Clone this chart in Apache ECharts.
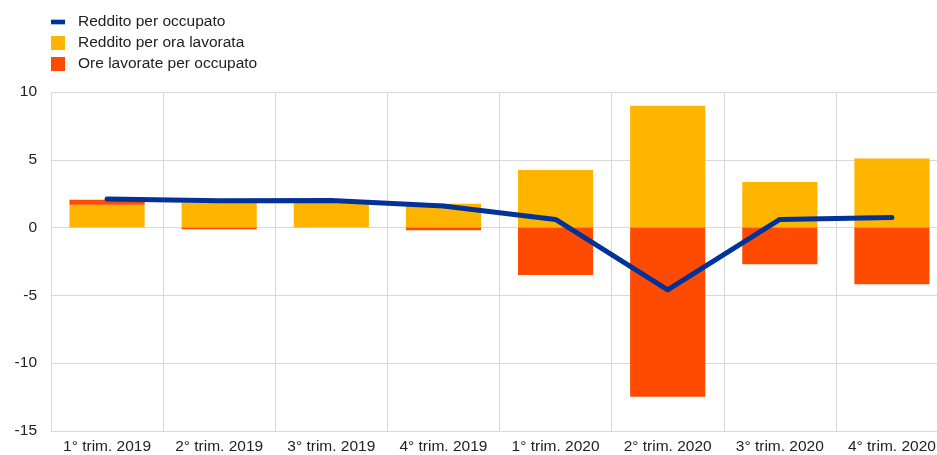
<!DOCTYPE html>
<html>
<head>
<meta charset="utf-8">
<script src="https://cdn.jsdelivr.net/npm/echarts@6/dist/echarts.min.js"></script>
<style>
  html, body { margin: 0; padding: 0; background: #fff; overflow: hidden; }
  #chart { width: 950px; height: 455px; }
</style>
</head>
<body>
<div id="chart"></div>
<script>
const categories = ['1° trim. 2019', '2° trim. 2019', '3° trim. 2019', '4° trim. 2019',
  '1° trim. 2020', '2° trim. 2020', '3° trim. 2020', '4° trim. 2020'];
const redditoPerOra = [1.68, 1.85, 1.97, 1.75, 4.24, 8.99, 3.37, 5.1];
const orePerOccupato = [0.37, -0.12, 0, -0.2, -3.49, -12.48, -2.71, -4.18];
const redditoPerOccupato = [2.1, 1.98, 2.0, 1.6, 0.6, -4.6, 0.6, 0.74];

const chart = echarts.init(document.getElementById('chart'));

const font = 'Liberation Sans, Arial, sans-serif';

chart.setOption({
  animation: false,
  textStyle: { fontFamily: font },
  legend: {
    orient: 'vertical',
    left: 51,
    top: 14,
    padding: 0,
    itemWidth: 14,
    itemHeight: 14,
    itemGap: 5,
    textStyle: { fontSize: 15.5, color: '#222', fontFamily: font, padding: [0, 0, 0, 8] },
    data: [
      { name: 'Reddito per occupato', icon: 'path://M0,0h15v5h-15z' },
      { name: 'Reddito per ora lavorata', icon: 'rect' },
      { name: 'Ore lavorate per occupato', icon: 'rect' }
    ]
  },
  grid: { left: 51, right: 2, top: 92, bottom: 23 },
  xAxis: {
    type: 'category',
    data: categories,
    axisLine: { show: false },
    axisTick: { show: false },
    splitLine: { show: true, interval: 0, lineStyle: { color: '#d9d9d9', width: 1 } },
    axisLabel: { fontSize: 15.5, color: '#222', margin: 8, interval: 0, fontFamily: font }
  },
  yAxis: {
    type: 'value',
    min: -15,
    max: 10,
    interval: 5,
    axisLine: { show: false },
    axisTick: { show: false },
    splitLine: { lineStyle: { color: '#d9d9d9', width: 1 } },
    axisLabel: { fontSize: 15.5, color: '#222', margin: 14, fontFamily: font }
  },
  series: [
    {
      name: 'Reddito per ora lavorata',
      type: 'bar',
      stack: 'tot',
      barWidth: '67%',
      data: redditoPerOra,
      itemStyle: { color: '#ffb400' }
    },
    {
      name: 'Ore lavorate per occupato',
      type: 'bar',
      stack: 'tot',
      barWidth: '67%',
      data: orePerOccupato,
      itemStyle: { color: '#ff4b00' }
    },
    {
      name: 'Reddito per occupato',
      type: 'line',
      data: redditoPerOccupato,
      showSymbol: false,
      symbol: 'none',
      z: 5,
      lineStyle: { color: '#003299', width: 5, cap: 'round', join: 'round' },
      itemStyle: { color: '#003299' }
    }
  ]
});
</script>
</body>
</html>
